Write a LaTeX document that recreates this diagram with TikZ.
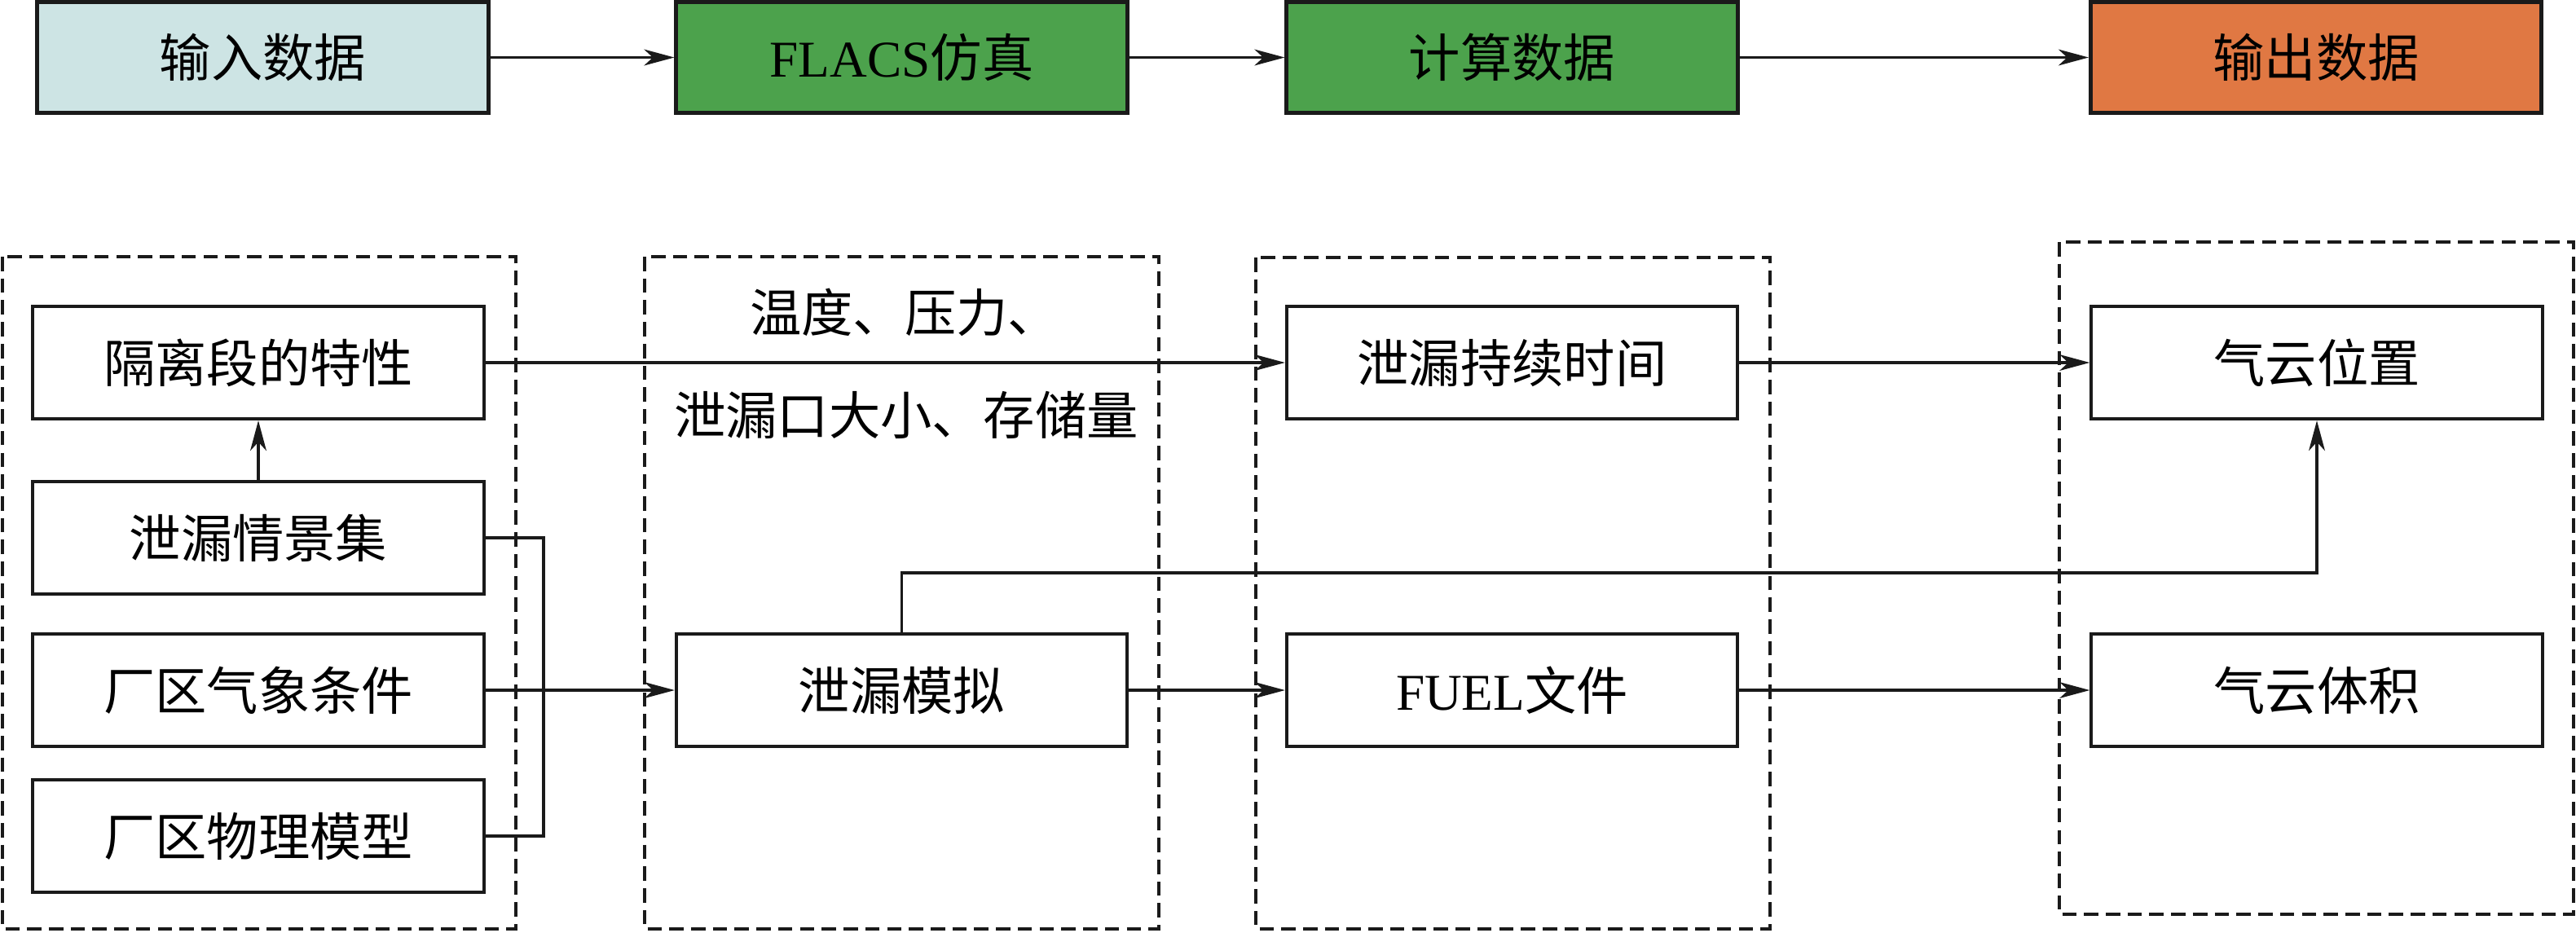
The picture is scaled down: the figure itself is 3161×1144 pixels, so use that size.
\documentclass[tikz,border=0pt]{standalone}
\usepackage{fontspec}
\setmainfont{Liberation Serif}
\newfontfamily\cjk{Noto Sans CJK SC}
\usetikzlibrary{arrows.meta}
\definecolor{inblue}{HTML}{CDE4E4}
\definecolor{simgreen}{HTML}{4CA24C}
\definecolor{outorange}{HTML}{E07843}
\definecolor{ink}{HTML}{1A1A1A}
\begin{document}
\begin{tikzpicture}[x=0.01cm,y=-0.01cm,
  box/.style={draw=ink, line width=1.15pt, minimum width=5.53cm, minimum height=1.38cm, inner sep=0pt,
    font=\cjk\fontsize{18pt}{20pt}\selectfont},
  topbox/.style={box, line width=1.35pt, minimum height=1.36cm},
  lbl/.style={inner sep=0pt, font=\cjk\fontsize{18pt}{20pt}\selectfont},
  group/.style={draw=ink, line width=1.05pt, dash pattern=on 5pt off 2.6pt},
  conn/.style={draw=ink, line width=1.1pt},
  arr/.style={conn, -{Stealth[length=10.5pt,width=5.6pt,inset=3pt]}}]
\useasboundingbox (0,0) rectangle (3161,1144);

% top row
\node[topbox, fill=inblue] (in) at (322.5,70.5) {输入数据};
\node[topbox, fill=simgreen] (flacs) at (1106.5,70.5) {{\rmfamily FLACS}仿真};
\node[topbox, fill=simgreen] (calc) at (1855.5,70.5) {计算数据};
\node[topbox, fill=outorange] (out) at (2842,70.5) {输出数据};
\draw[arr] (in) -- (flacs);
\draw[arr] (flacs) -- (calc);
\draw[arr] (calc) -- (out);

% dashed groups
\draw[group] (3,315) rectangle (633,1140);
\draw[group] (791,315) rectangle (1422,1140);
\draw[group] (1541,316) rectangle (2172,1140);
\draw[group] (2527,297) rectangle (3158,1122);

% column 1
\node[box] (g1) at (317,445) {隔离段的特性};
\node[box] (g2) at (317,660) {泄漏情景集};
\node[box] (g3) at (317,847) {厂区气象条件};
\node[box] (g4) at (317,1026) {厂区物理模型};

% column 2
\node[lbl] (t1) at (1110,383) {温度、压力、};
\node[lbl] (t2) at (1112,509) {泄漏口大小、存储量};
\node[box] (sim) at (1106.5,847) {泄漏模拟};

% column 3
\node[box] (dur) at (1855.5,445) {泄漏持续时间};
\node[box] (fuel) at (1855.5,847) {{\rmfamily FUEL}文件};

% column 4
\node[box] (pos) at (2843,445) {气云位置};
\node[box] (vol) at (2843,847) {气云体积};

% connectors
\draw[arr] (g2) -- (g1);
\draw[arr] (g1) -- (dur);
\coordinate (bx) at (667,847);
\draw[conn] (g2.east) -| (bx) |- (g4.east);
\draw[arr] (g3) -- (sim);
\coordinate (up) at (1106.5,703);
\draw[arr] (sim.north) -- (up) -| (pos.south);
\draw[arr] (sim) -- (fuel);
\draw[arr] (dur) -- (pos);
\draw[arr] (fuel) -- (vol);
\end{tikzpicture}
\end{document}
